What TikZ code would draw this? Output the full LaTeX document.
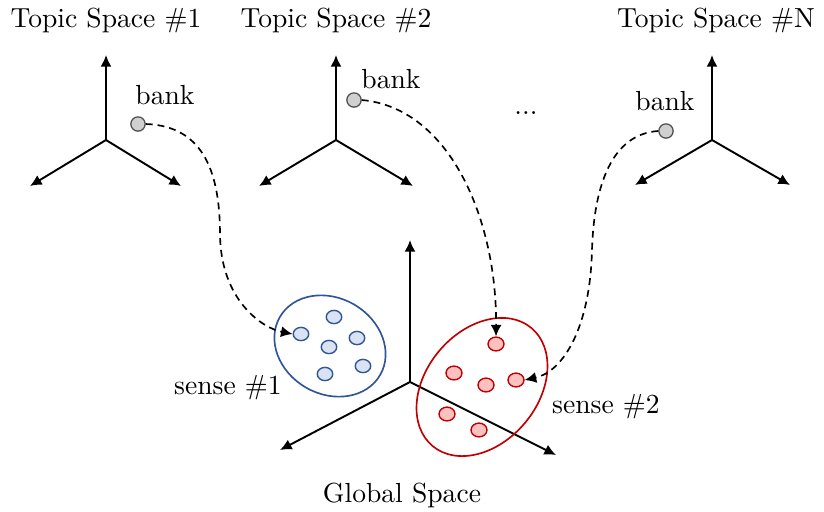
\documentclass[tikz,border=0pt]{standalone}
\usetikzlibrary{arrows.meta,shapes.geometric}
\definecolor{senseblue}{RGB}{47,85,151}
\definecolor{senseblueFill}{RGB}{218,227,243}
\definecolor{sensered}{RGB}{192,0,0}
\definecolor{senseredFill}{RGB}{255,192,192}
\definecolor{bankFill}{RGB}{208,208,208}
\definecolor{bankEdge}{RGB}{80,80,80}
\tikzset{
  axis/.style={line width=0.7pt,-{Latex[length=4.2pt,width=4pt]}},
  link/.style={line width=0.6pt,dash pattern=on 2.5pt off 1.8pt,-{Latex[length=4.2pt,width=4pt]}},
  bankdot/.style={circle,draw=bankEdge,fill=bankFill,line width=0.45pt,inner sep=0pt,minimum size=5.2pt},
  bluedot/.style={ellipse,draw=senseblue,fill=senseblueFill,line width=0.5pt,inner sep=0pt,minimum width=5.6pt,minimum height=4.8pt},
  reddot/.style={ellipse,draw=sensered,fill=senseredFill,line width=0.5pt,inner sep=0pt,minimum width=5.8pt,minimum height=5pt},
  label/.style={inner sep=0pt,font=\normalsize}
}
\begin{document}
\begin{tikzpicture}[x=0.3625pt,y=-0.3625pt]
\useasboundingbox (0,0) rectangle (824,511);

% topic space 1
\coordinate (o1) at (106,140);
\coordinate (u1) at (106,55);
\coordinate (l1) at (30,186);
\coordinate (r1) at (181,186);
\draw[axis] (o1) -- (u1);
\draw[axis] (o1) -- (l1);
\draw[axis] (o1) -- (r1);
\node[label] (t1) at (106,20) {Topic Space \#1};

% topic space 2
\coordinate (o2) at (336,140);
\coordinate (u2) at (336,55);
\coordinate (l2) at (259,186);
\coordinate (r2) at (413,186);
\draw[axis] (o2) -- (u2);
\draw[axis] (o2) -- (l2);
\draw[axis] (o2) -- (r2);
\node[label] (t2) at (336,20) {Topic Space \#2};

% topic space N
\coordinate (o3) at (712,140);
\coordinate (u3) at (712,55);
\coordinate (l3) at (635,185);
\coordinate (r3) at (790,185);
\draw[axis] (o3) -- (u3);
\draw[axis] (o3) -- (l3);
\draw[axis] (o3) -- (r3);
\node[label] (t3) at (716,20) {Topic Space \#N};

\node[label] (dots) at (526,113) {...};

% global space
\coordinate (og) at (410,382);
\coordinate (ug) at (410,240);
\coordinate (lg) at (280,450);
\coordinate (rg) at (556,455);
\draw[axis] (og) -- (ug);
\draw[axis] (og) -- (lg);
\draw[axis] (og) -- (rg);
\node[label] (tg) at (402,495) {Global Space};

% sense clusters
\node[ellipse,draw=senseblue,line width=0.6pt,minimum width=42pt,minimum height=34.8pt,rotate=-30] (s1) at (330,346) {};
\node[ellipse,draw=sensered,line width=0.6pt,minimum width=55.8pt,minimum height=40.6pt,rotate=50] (s2) at (482,387) {};
\node[label] (s1lab) at (228,388) {sense \#1};
\node[label] (s2lab) at (606,407) {sense \#2};

\node[bluedot] (d1) at (301,334) {};
\node[bluedot] (d2) at (334,317) {};
\node[bluedot] (d3) at (357,338) {};
\node[bluedot] (d4) at (329,347) {};
\node[bluedot] (d5) at (363,366) {};
\node[bluedot] (d6) at (325,374) {};

\node[reddot] (e1) at (496,344) {};
\node[reddot] (e2) at (454,373) {};
\node[reddot] (e3) at (486,385) {};
\node[reddot] (e4) at (516,380) {};
\node[reddot] (e5) at (447,414) {};
\node[reddot] (e6) at (479,430) {};

% word "bank" in each topic space
\node[bankdot] (b1) at (138,124) {};
\node[bankdot] (b2) at (354,100) {};
\node[bankdot] (b3) at (666,131) {};
\node[label] (bl1) at (165,95) {bank};
\node[label] (bl2) at (391,79) {bank};
\node[label] (bl3) at (665,101) {bank};

% mappings into the global space
\draw[link] (b1.east) .. controls (205,126) and (220,175) .. (220,235)
  .. controls (221,300) and (262,328) .. (d1.west);
\draw[link] (b2.east) .. controls (450,108) and (497,220) .. (e1.north);
\draw[link] (b3.west) .. controls (612,134) and (594,185) .. (592,250)
  .. controls (590,330) and (562,372) .. (e4.east);
\end{tikzpicture}
\end{document}
